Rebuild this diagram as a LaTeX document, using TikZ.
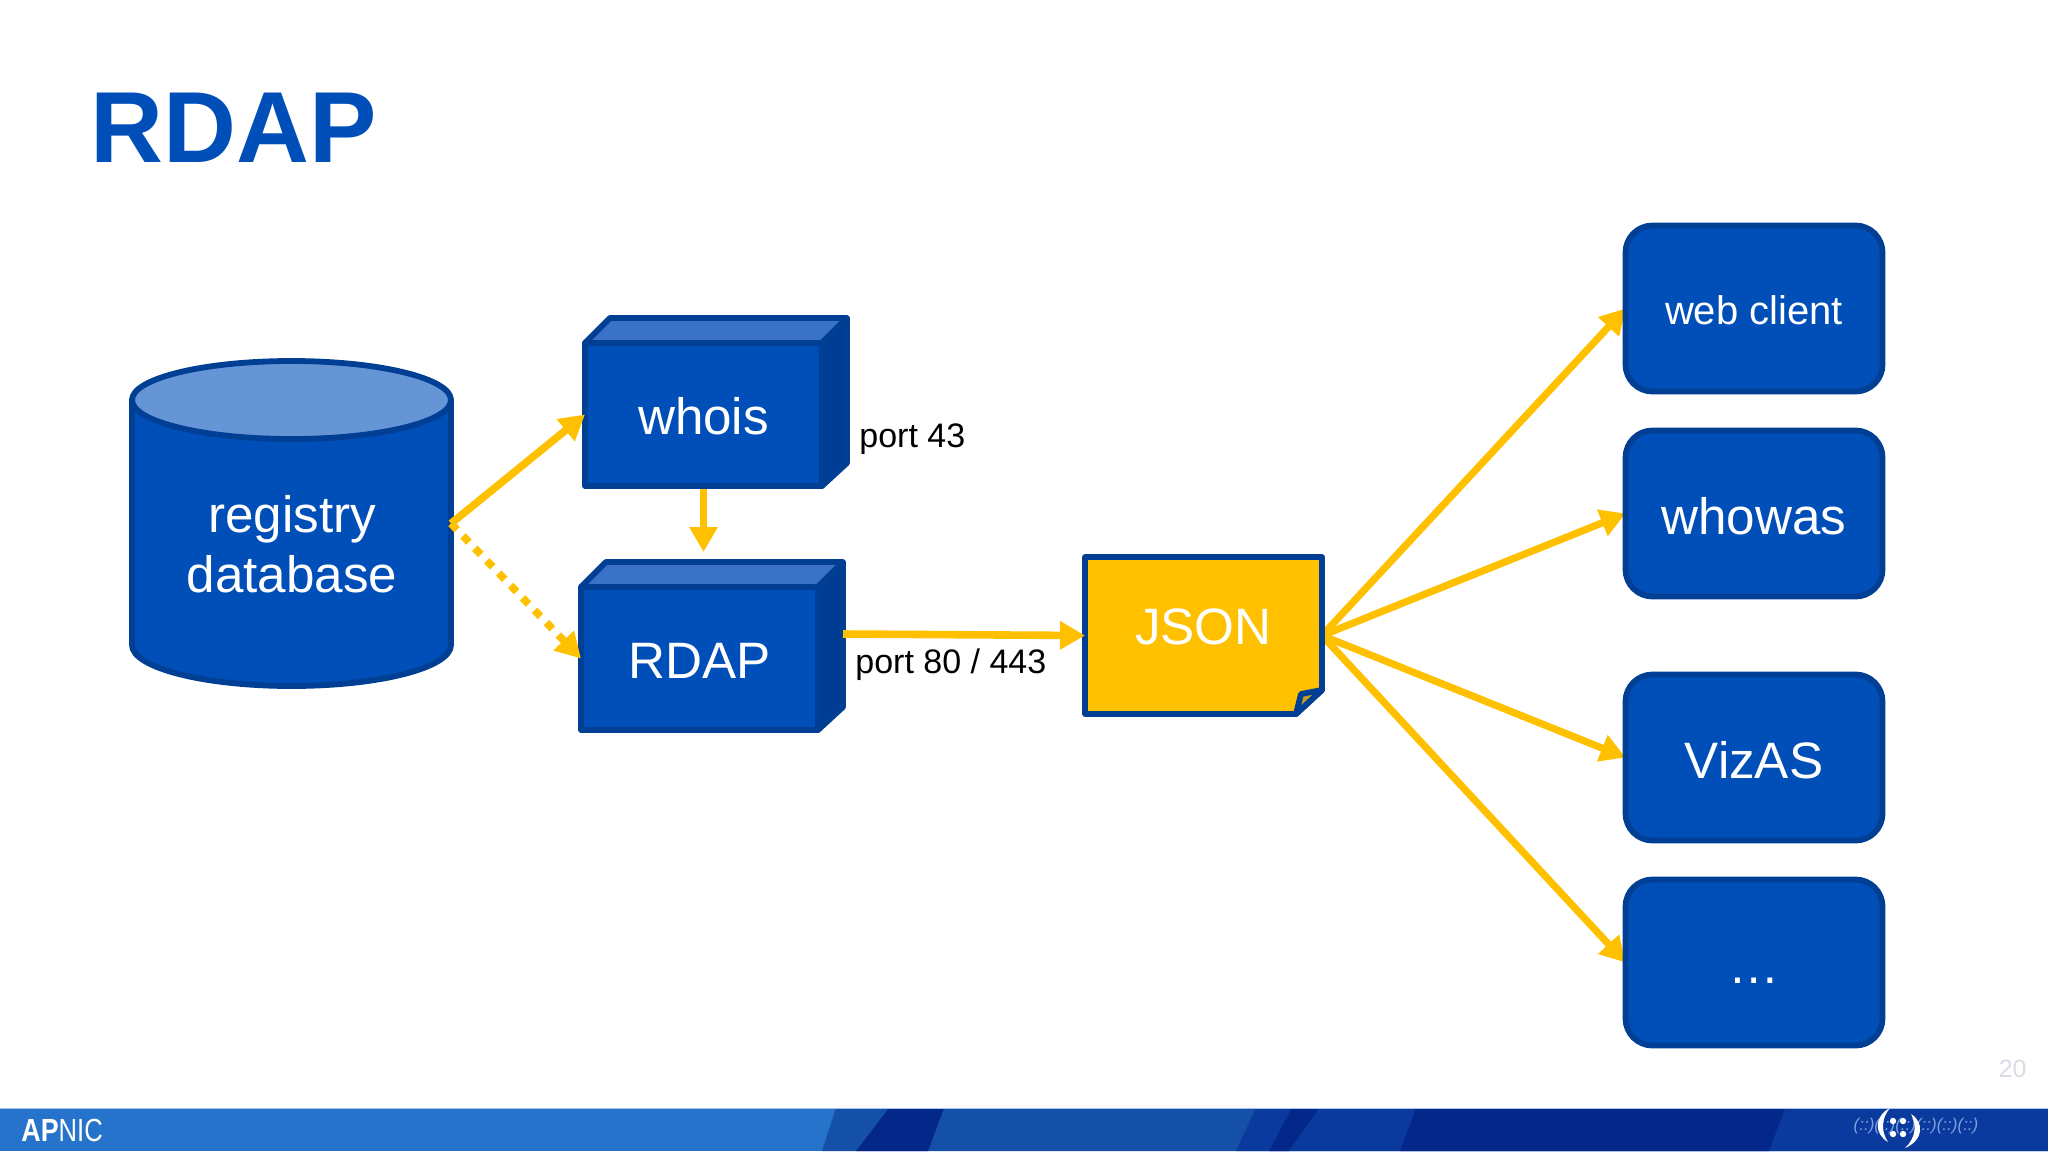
\documentclass[tikz,border=0pt]{standalone}
\usepackage{fontspec}
\setmainfont{Liberation Sans}
\usetikzlibrary{arrows.meta,backgrounds}
\definecolor{boxfill}{HTML}{004FB8}
\definecolor{boxline}{HTML}{003F93}
\definecolor{topfill}{HTML}{3A72C8}
\definecolor{sidefill}{HTML}{003C94}
\definecolor{dbtop}{HTML}{6695D6}
\definecolor{gold}{HTML}{FFC000}
\definecolor{foldgold}{HTML}{C9A020}
\definecolor{barlight}{HTML}{2673CC}
\definecolor{barmid}{HTML}{1450A8}
\definecolor{bardeep}{HTML}{0A3A9E}
\definecolor{bardark}{HTML}{04288A}
\definecolor{barrim}{HTML}{A8C5E8}
\definecolor{logosmall}{HTML}{7F9FDD}
\definecolor{pagenum}{HTML}{D9DAE6}
\tikzset{
  x=0.5pt,y=-0.5pt,
  shapeline/.style={draw=boxline,line width=2.9pt,line join=round},
  flow/.style={draw=gold,line width=3.8pt,-{Triangle[length=12.5pt,width=13.5pt]}},
  fan/.style={flow,line width=3.6pt},
  face/.style={rectangle,draw=none,inner sep=0pt,outer sep=0pt,text=white,font=\fontsize{25.6}{30}\selectfont,text height=19.5pt,text depth=0pt},
  rbox/.style={rectangle,rounded corners=13.5pt,fill=boxfill,draw=boxline,line width=2.9pt,minimum width=128.5pt,minimum height=83pt,inner sep=0pt,outer sep=0pt,text=white,font=\fontsize{25.6}{30}\selectfont,text height=20.5pt,text depth=0pt},
  port/.style={inner sep=0pt,text=black,anchor=base west,font=\fontsize{17}{20}\selectfont},
}
\begin{document}
\begin{tikzpicture}
\useasboundingbox (0,0) rectangle (2048,1152);
% footer band
\fill[barlight] (0,1108) rectangle (2048,1151);
\fill[barmid] (836,1108) -- (2048,1108) -- (2048,1151) -- (822,1151) -- cycle;
\fill[bardark] (889,1108) -- (944,1108) -- (928,1151) -- (856,1151) -- cycle;
\fill[bardeep] (1256,1108) -- (2048,1108) -- (2048,1151) -- (1236,1151) -- cycle;
\fill[bardark] (1292,1108) -- (1319,1108) -- (1289,1151) -- (1269,1151) -- cycle;
\fill[bardark] (1416,1108) -- (1785,1108) -- (1769,1151) -- (1400,1151) -- cycle;
\fill[barrim] (0,1107.5) rectangle (2048,1109);
\node[inner sep=0pt,anchor=base west,text=white,font=\fontsize{16}{18}\selectfont] (apnic) at (21,1141)
  {\scalebox{.84}[1]{\bfseries AP}\scalebox{.8}[1]{NIC}};
\node[inner sep=0pt,text=logosmall,font=\fontsize{8.5}{10}\itshape\selectfont] (ipv6) at (1916,1126) {(::)(::)(::)(::)(::)(::)};
% logo mark
\fill[white] (1890,1108) .. controls (1874,1116) and (1874,1134) .. (1888,1142) .. controls (1881,1132) and (1881,1118) .. (1890,1108) -- cycle;
\fill[white] (1905,1148) .. controls (1924,1140) and (1924,1122) .. (1911,1114) .. controls (1917,1124) and (1916,1138) .. (1905,1148) -- cycle;
\foreach \px/\py in {1893/1121,1903/1121,1893/1134,1903/1134}
  \fill[white] (\px,\py) circle[radius=3.2];
\node[inner sep=0pt,anchor=base east,text=pagenum,font=\fontsize{12.5}{14}\selectfont] (page) at (2027,1077) {20};
% title
\node[inner sep=0pt,anchor=base west,text=boxfill,font=\fontsize{50.5}{60}\bfseries\selectfont] (title) at (90.5,162) {RDAP};
% database cylinder
\path[fill=boxfill,shapeline] (132,400) -- (132,645) arc[start angle=180,end angle=0,x radius=159.5,y radius=41] -- (451,400) -- cycle;
\path[fill=dbtop,shapeline] (291.5,400) ellipse[x radius=159.5,y radius=39];
\node[rectangle,draw=none,inner sep=0pt,outer sep=0pt,minimum width=159.5pt,minimum height=162.5pt] (db) at (291.5,523.5) {};
\node[inner sep=0pt,text=white,align=center,anchor=base,font=\fontsize{25.6}{30}\selectfont] (dblabel) at (292,592) {registry\\database};
% whois box
\path[fill=topfill,shapeline] (585,343) -- (610,318) -- (847,318) -- (822,343) -- cycle;
\path[fill=sidefill,shapeline] (822,343) -- (847,318) -- (847,463) -- (822,486) -- cycle;
\path[fill=boxfill,shapeline] (585,343) rectangle (822,486);
\node[face,minimum width=118.5pt,minimum height=71.5pt] (whois) at (703.5,414.5) {whois};
% RDAP box
\path[fill=topfill,shapeline] (581,587) -- (606,562) -- (843,562) -- (818,587) -- cycle;
\path[fill=sidefill,shapeline] (818,587) -- (843,562) -- (843,707) -- (818,730) -- cycle;
\path[fill=boxfill,shapeline] (581,587) rectangle (818,730);
\node[face,minimum width=118.5pt,minimum height=71.5pt] (rdap) at (699.5,658.5) {RDAP};
\coordinate (rdapIn) at (703.5,552);
\coordinate (rdapOut) at (843,634);
% JSON page
\path[fill=gold,shapeline] (1085,557) -- (1322,557) -- (1322,690) -- (1296,714) -- (1085,714) -- cycle;
\path[fill=foldgold,shapeline] (1322,690) -- (1301,694) -- (1296,714) -- cycle;
\node[face,text height=8.5pt,minimum width=118.5pt,minimum height=78.5pt] (json) at (1203.5,635.5) {JSON};
% right boxes
\node[rbox,font=\fontsize{20}{24}\selectfont,text height=15.5pt] (web) at (1754,308.5) {web client};
\node[rbox] (whowas) at (1754,513.5) {whowas};
\node[rbox] (vizas) at (1754,757.5) {VizAS};
\node[rbox] (more) at (1754,962.5) {…};
% port labels
\node[port] (p43) at (859,447) {port 43};
\node[port] (p80) at (855,673) {port 80 / 443};
% connectors
\draw[flow] (db.east) -- (whois.west);
\draw[flow,dash pattern=on 4.3pt off 4.3pt] (db.east) -- (rdap.west);
\draw[flow,shorten <=1.5pt] (whois.south) -- (rdapIn);
\draw[flow] (rdapOut) -- (json.west);
\begin{pgfonlayer}{background}
\draw[fan] (json.east) -- (web.west);
\draw[fan] (json.east) -- (whowas.west);
\draw[fan] (json.east) -- (vizas.west);
\draw[fan] (json.east) -- (more.west);
\end{pgfonlayer}
\end{tikzpicture}
\end{document}
